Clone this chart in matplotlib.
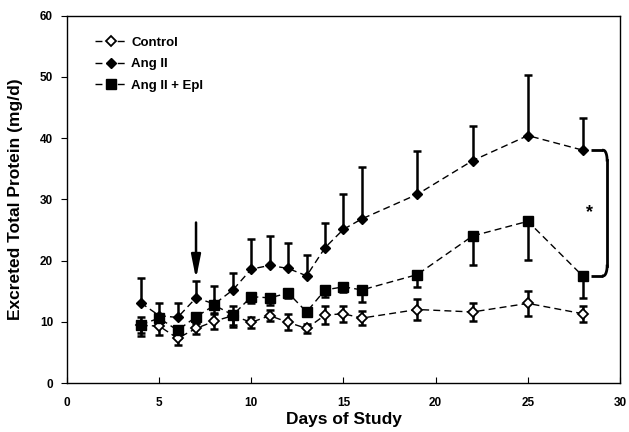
import matplotlib
matplotlib.use("Agg")
import matplotlib.pyplot as plt
import numpy as np

plt.rcParams['font.family'] = ['Liberation Sans', 'DejaVu Sans']
plt.rcParams['font.weight'] = 'bold'

days = [4, 5, 6, 7, 8, 9, 10, 11, 12, 13, 14, 15, 16, 19, 22, 25, 28]

control = [9.4, 9.3, 7.3, 8.9, 10.1, 11.0, 9.9, 11.0, 9.9, 8.9, 11.1, 11.3, 10.6, 12.0, 11.6, 13.0, 11.3]
control_err = [1.3, 1.4, 1.1, 0.9, 1.3, 1.6, 0.9, 0.9, 1.3, 0.8, 1.5, 1.3, 1.1, 1.7, 1.5, 2.0, 1.3]

angii = [13.1, 11.0, 10.7, 13.9, 12.9, 15.2, 18.6, 19.2, 18.7, 17.5, 22.1, 25.1, 26.8, 30.8, 36.3, 40.4, 38.0]
angii_err = [4.0, 2.1, 2.4, 2.75, 2.9, 2.7, 4.9, 4.8, 4.2, 3.4, 4.0, 5.7, 8.5, 7.1, 5.7, 9.9, 5.3]

epl = [9.5, 10.6, 8.6, 10.8, 12.7, 11.1, 14.1, 13.9, 14.7, 11.6, 15.2, 15.7, 15.2, 17.7, 24.0, 26.4, 17.4]
epl_err = [1.8, 1.0, 1.2, 1.0, 1.5, 1.9, 1.0, 1.2, 0.9, 0.6, 1.1, 0.8, 1.9, 2.1, 4.8, 6.3, 3.5]

legend_labels = ["Control", "Ang II", "Ang II + Epl"]
x_ticks = [0, 5, 10, 15, 20, 25, 30]
y_ticks = [0, 10, 20, 30, 40, 50, 60]

fig = plt.figure(figsize=(6.29, 4.32), dpi=100)
ax = fig.add_axes([0.1065, 0.1134, 0.8792, 0.8507])

dash = (0, (5, 3))
err_kw = dict(ecolor='black', elinewidth=1.8, capsize=3, capthick=1.8)

zeros = [0] * len(days)
ax.errorbar(days, epl, yerr=[epl_err, zeros], fmt='none', zorder=2, **err_kw)
ax.errorbar(days, angii, yerr=[zeros, angii_err], fmt='none', zorder=2, **err_kw)
ax.errorbar(days, control, yerr=control_err, fmt='none', zorder=2, **err_kw)

l1, = ax.plot(days, control, color='black', lw=1, linestyle=dash, marker='D',
              markersize=5.5, markerfacecolor='white', markeredgecolor='black',
              markeredgewidth=1.3, zorder=3, label=legend_labels[0])
l2, = ax.plot(days, angii, color='black', lw=1, linestyle=dash, marker='D',
              markersize=5.5, markerfacecolor='black', markeredgecolor='black',
              zorder=3.5, label=legend_labels[1])
l3, = ax.plot(days, epl, color='black', lw=1, linestyle=dash, marker='s',
              markersize=7.5, markerfacecolor='black', markeredgecolor='black',
              zorder=4, label=legend_labels[2])

# arrow at day 7
ax.annotate('', xy=(7.0, 17.0), xytext=(7.0, 26.2),
            arrowprops=dict(arrowstyle='-|>,head_length=1.0,head_width=0.2',
                            color='black', lw=1.8,
                            mutation_scale=14, shrinkA=0, shrinkB=0))

# bracket
bx0, bx1 = 28.4, 29.3
ytop, ybot = 38.0, 17.5
r = 1.6
ax.plot([bx0, bx1 - 0.2], [ytop, ytop], color='black', lw=2, solid_capstyle='butt')
t = np.linspace(0, np.pi / 2, 20)
ax.plot(bx1 - 0.2 + 0.2 * np.sin(t), ytop - r + r * np.cos(t), color='black', lw=2)
ax.plot([bx1, bx1], [ytop - r, ybot + r], color='black', lw=2)
ax.plot(bx1 - 0.2 + 0.2 * np.sin(t), ybot + r - r * np.cos(t), color='black', lw=2)
ax.plot([bx0, bx1 - 0.2], [ybot, ybot], color='black', lw=2, solid_capstyle='butt')
ax.text(28.35, 27.8, '*', ha='center', va='center', fontsize=13, fontweight='bold')

ax.set_xlim(0, 30)
ax.set_ylim(0, 60)
ax.set_xticks(x_ticks)
ax.set_yticks(y_ticks)
ax.tick_params(axis='x', direction='in', length=4, labelsize=8.5, pad=10)
ax.tick_params(axis='y', direction='out', length=4, labelsize=8.5, pad=6)
for s in ax.spines.values():
    s.set_linewidth(1.0)
    s.set_color('black')

ax.set_xlabel('Days of Study', fontsize=12.5, fontweight='bold', labelpad=2)
ax.set_ylabel('Excreted Total Protein (mg/d)', fontsize=12.5, fontweight='bold', labelpad=12)

leg = ax.legend(handles=[l1, l2, l3], loc='upper left', frameon=False,
                bbox_to_anchor=(0.03, 0.975), fontsize=9.5, handlelength=2.4,
                handletextpad=0.3, labelspacing=0.7)
for t_ in leg.get_texts():
    t_.set_fontweight('bold')

fig.savefig('out.png', dpi=100)
